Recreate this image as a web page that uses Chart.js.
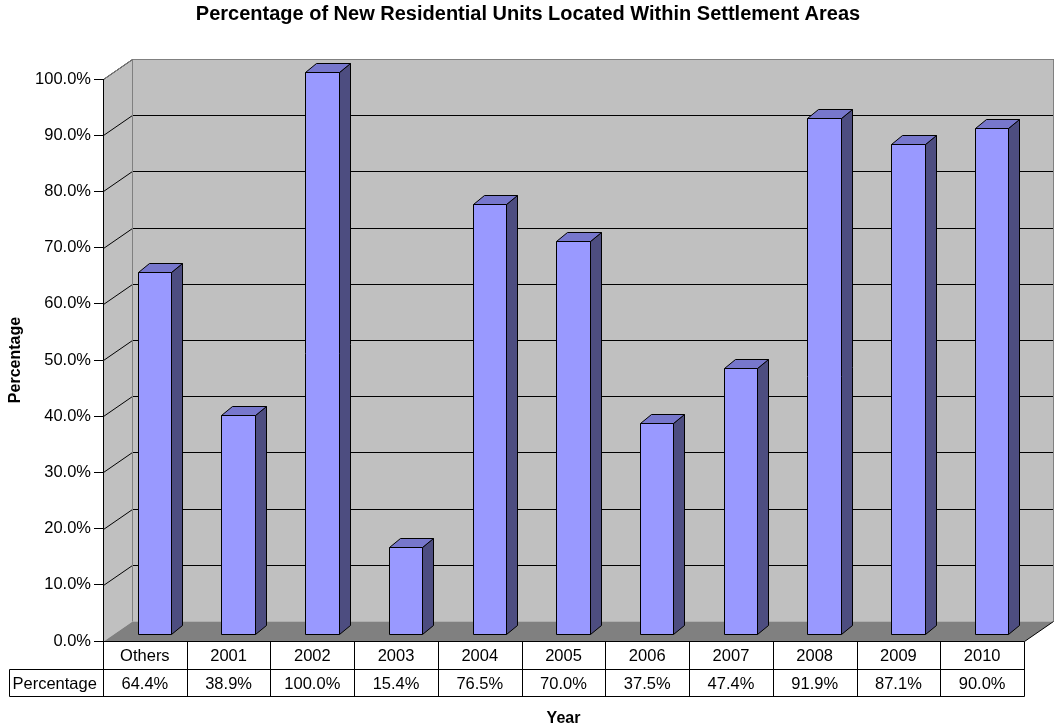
<!DOCTYPE html>
<html>
<head>
<meta charset="utf-8">
<script src="https://cdn.jsdelivr.net/npm/chart.js@4.4.1/dist/chart.umd.min.js"></script>
<style>
  html, body { margin: 0; padding: 0; background: #fff; }
  canvas { display: block; }
</style>
</head>
<body>
<canvas id="chart" width="1056" height="727"></canvas>
<script>
const categories = ['Others', '2001', '2002', '2003', '2004', '2005', '2006', '2007', '2008', '2009', '2010']
const percentages = [64.4, 38.9, 100.0, 15.4, 76.5, 70.0, 37.5, 47.4, 91.9, 87.1, 90.0]
const seriesName = 'Percentage'

const FONT = "'Liberation Sans', Arial, sans-serif"
Chart.defaults.font.family = FONT
Chart.defaults.color = '#000'

// 3d look: depth of the walls and of each bar
const WALL = { x: 29, y: -20 }
const BAR_OFF = { x: 9.5, y: -7 }
const BAR_DEPTH = { x: 11, y: -9 }

const fmt = (v) => v.toFixed(1) + '%'
const px = (v) => Math.round(v) + 0.5

function poly(ctx, pts, fill, stroke) {
  ctx.beginPath()
  ctx.moveTo(pts[0][0], pts[0][1])
  for (let i = 1; i < pts.length; i++) ctx.lineTo(pts[i][0], pts[i][1])
  ctx.closePath()
  if (fill) { ctx.fillStyle = fill; ctx.fill() }
  if (stroke) { ctx.strokeStyle = stroke; ctx.lineWidth = 1; ctx.stroke() }
}

const walls = {
  id: 'walls',
  beforeDraw(chart) {
    const { ctx, chartArea: a, scales: { y } } = chart
    const L = px(a.left), R = px(a.right), T = a.top, B = px(a.bottom)
    ctx.save()
    // back wall
    poly(ctx, [[L + WALL.x, T + WALL.y], [R + WALL.x, T + WALL.y], [R + WALL.x, B + WALL.y], [L + WALL.x, B + WALL.y]], '#C0C0C0')
    // left side wall
    poly(ctx, [[L, T], [L + WALL.x, T + WALL.y], [L + WALL.x, B + WALL.y], [L, B]], '#C0C0C0')
    // floor
    poly(ctx, [[L, B], [L + WALL.x, B + WALL.y], [R + WALL.x, B + WALL.y], [R, B]], '#808080')

    // gridlines on side wall and back wall
    ctx.strokeStyle = '#000'
    ctx.lineWidth = 1
    y.ticks.forEach(t => {
      if (t.value === 0) return
      const yy = px(y.getPixelForValue(t.value))
      ctx.beginPath()
      ctx.moveTo(L, yy)
      ctx.lineTo(L + WALL.x, yy + WALL.y)
      ctx.lineTo(R + WALL.x, yy + WALL.y)
      ctx.stroke()
    })

    // wall outlines
    ctx.strokeStyle = '#808080'
    ctx.beginPath()
    ctx.moveTo(L, px(T))
    ctx.lineTo(L + WALL.x, px(T) + WALL.y)
    ctx.lineTo(R + WALL.x, px(T) + WALL.y)
    ctx.lineTo(R + WALL.x, B + WALL.y)
    ctx.moveTo(L + WALL.x, px(T) + WALL.y)
    ctx.lineTo(L + WALL.x, B + WALL.y)
    ctx.stroke()

    // right edge of floor
    ctx.strokeStyle = '#000'
    ctx.beginPath()
    ctx.moveTo(R, B)
    ctx.lineTo(R + WALL.x, B + WALL.y)
    ctx.stroke()
    ctx.restore()
  }
}

const bars3d = {
  id: 'bars3d',
  afterDatasetsDraw(chart) {
    const { ctx } = chart
    const meta = chart.getDatasetMeta(0)
    ctx.save()
    meta.data.forEach(bar => {
      const { x, y, base, width } = bar.getProps(['x', 'y', 'base', 'width'], true)
      const x0 = px(x - width / 2 + BAR_OFF.x)
      const x1 = px(x + width / 2 + BAR_OFF.x)
      const yt = px(y + BAR_OFF.y)
      const yb = px(base + BAR_OFF.y)
      const dx = BAR_DEPTH.x, dy = BAR_DEPTH.y
      // side
      poly(ctx, [[x1, yt], [x1 + dx, yt + dy], [x1 + dx, yb + dy], [x1, yb]], '#4D4D80', '#000')
      // top
      poly(ctx, [[x0, yt], [x0 + dx, yt + dy], [x1 + dx, yt + dy], [x1, yt]], '#7777CC', '#000')
      // front
      poly(ctx, [[x0, yt], [x1, yt], [x1, yb], [x0, yb]], '#9999FF', '#000')
    })
    ctx.restore()
  }
}

const dataTable = {
  id: 'dataTable',
  afterDraw(chart) {
    const { ctx, chartArea: a, scales: { x } } = chart
    const n = categories.length
    const w = (a.right - a.left) / n
    const top = px(a.bottom)
    const mid = top + 28
    const bot = mid + 27
    const labelLeft = 9.5
    ctx.save()
    ctx.strokeStyle = '#000'
    ctx.lineWidth = 1
    ctx.beginPath()
    ctx.moveTo(px(a.left), top); ctx.lineTo(px(a.right), top)
    ctx.moveTo(labelLeft, mid); ctx.lineTo(px(a.right), mid)
    ctx.moveTo(labelLeft, bot); ctx.lineTo(px(a.right), bot)
    ctx.moveTo(labelLeft, mid); ctx.lineTo(labelLeft, bot)
    for (let i = 0; i <= n; i++) {
      const xx = px(a.left + i * w)
      ctx.moveTo(xx, top); ctx.lineTo(xx, bot)
    }
    ctx.stroke()

    ctx.fillStyle = '#000'
    ctx.font = '16.5px ' + FONT
    ctx.textBaseline = 'middle'
    ctx.textAlign = 'center'
    categories.forEach((c, i) => {
      const cx = x.getPixelForValue(i)
      ctx.fillText(c, cx, (top + mid) / 2 + 1)
      ctx.fillText(fmt(percentages[i]), cx, (mid + bot) / 2 + 1)
    })
    ctx.textAlign = 'left'
    ctx.fillText(seriesName, labelLeft + 3, (mid + bot) / 2 + 1)
    ctx.restore()
  }
}

new Chart(document.getElementById('chart'), {
  type: 'bar',
  data: {
    labels: categories,
    datasets: [{
      label: seriesName,
      data: percentages,
      backgroundColor: 'rgba(0,0,0,0)',
      borderWidth: 0,
      barPercentage: 0.4,
      categoryPercentage: 1,
    }],
  },
  options: {
    responsive: false,
    animation: false,
    layout: { padding: 0 },
    plugins: {
      legend: { display: false },
      tooltip: { enabled: false },
      title: {
        display: true,
        text: 'Percentage of New Residential Units Located Within Settlement Areas',
        font: { size: 20, weight: 'bold' },
        color: '#000',
        padding: { top: 2, bottom: 53 },
      },
    },
    scales: {
      x: {
        grid: { display: false },
        border: { display: false },
        ticks: { display: false },
        title: { display: true, text: 'Year', font: { size: 16, weight: 'bold' }, padding: { top: 0, bottom: -1.5 } },
        afterFit(scale) { scale.height = 86 },
      },
      y: {
        min: 0,
        max: 100,
        ticks: { stepSize: 10, padding: 3, font: { size: 16.5 }, color: '#000', callback: (v) => fmt(v) },
        grid: { drawOnChartArea: false, drawTicks: true, tickLength: 9, color: '#000' },
        border: { display: true, color: '#000', width: 1 },
        title: { display: true, text: 'Percentage', font: { size: 16, weight: 'bold' }, padding: { top: 5.5, bottom: 0 } },
        afterFit(scale) { scale.width = 103 },
      },
      // empty right axis: room for the 3d depth so the title stays centred on the page
      depth: {
        position: 'right',
        min: 0,
        max: 100,
        grid: { display: false },
        border: { display: false },
        ticks: { display: false },
        afterFit(scale) { scale.width = 32 },
      },
    },
  },
  plugins: [walls, bars3d, dataTable],
})
</script>
</body>
</html>
